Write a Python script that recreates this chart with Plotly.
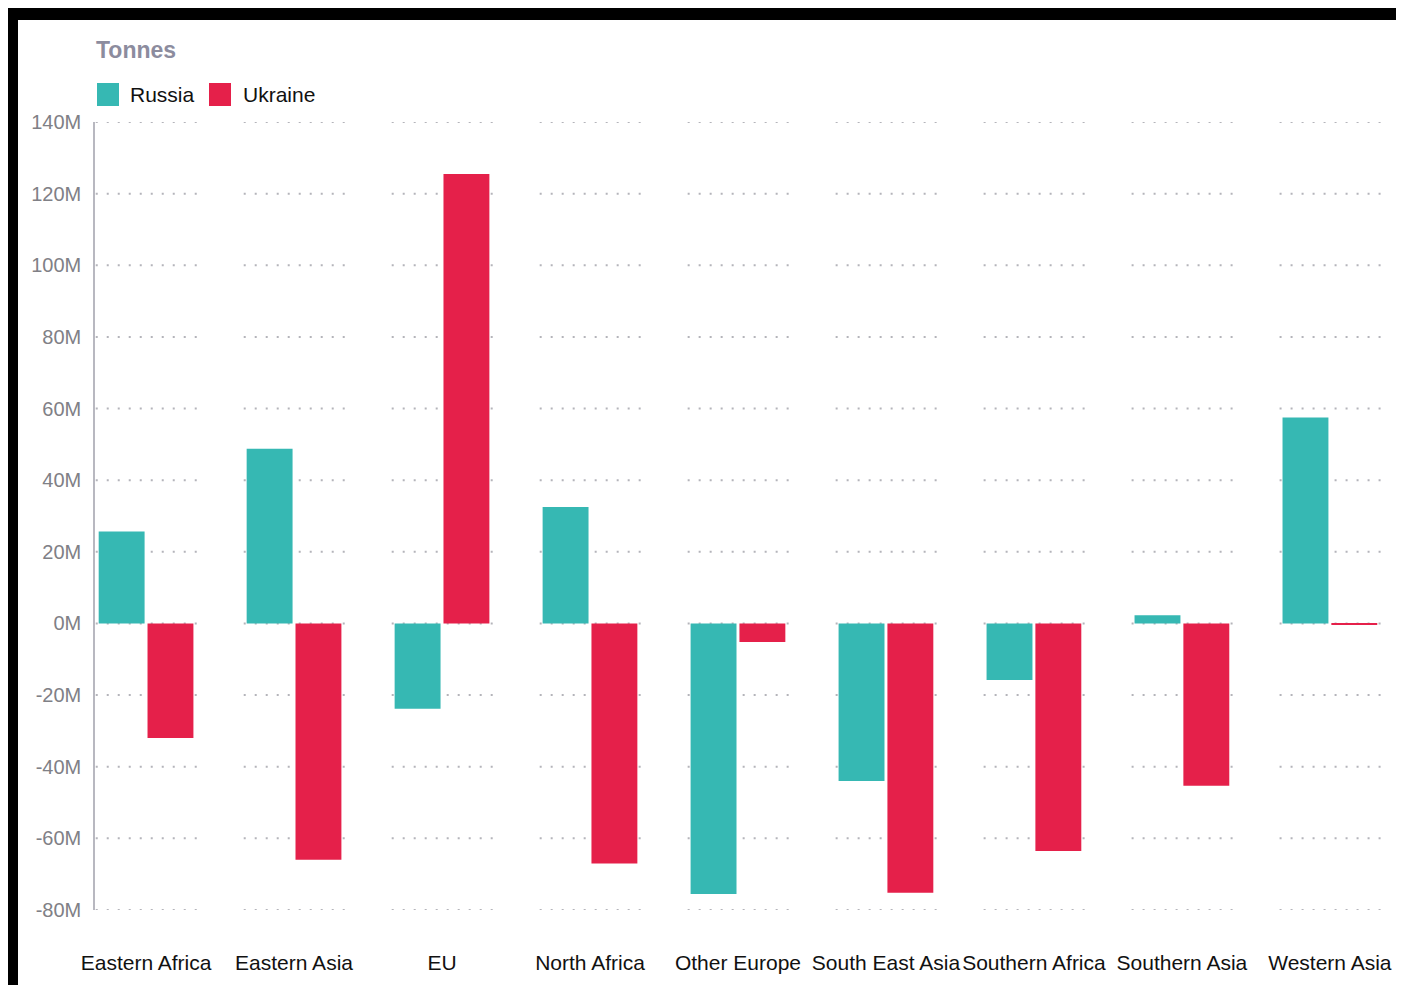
import plotly.graph_objects as go

categories = ["Eastern Africa", "Eastern Asia", "EU", "North Africa", "Other Europe",
              "South East Asia", "Southern Africa", "Southern Asia", "Western Asia"]
russia = [25.7e6, 48.8e6, -23.8e6, 32.5e6, -75.5e6, -44.0e6, -15.8e6, 2.3e6, 57.5e6]
ukraine = [-32.0e6, -66.0e6, 125.5e6, -67.0e6, -5.2e6, -75.2e6, -63.5e6, -45.3e6, -0.4e6]
series_names = ["Russia", "Ukraine"]
tick_values = [-80e6, -60e6, -40e6, -20e6, 0, 20e6, 40e6, 60e6, 80e6, 100e6, 120e6, 140e6]
tick_labels = [f"{int(v/1e6)}M" for v in tick_values]

TEAL = "#36b8b3"
RED = "#e5204a"
FONT = "Liberation Sans, Arial, sans-serif"

OFF = 8  # page body margin
W, H = 1388, 977
L, R, T, B = 87, 1, 114, 75
pw, ph = W - L - R, H - T - B


def px(x):
    # page pixel -> paper fraction
    return (x - OFF - L) / pw


def py(y):
    return (H - B - (y - OFF)) / ph


fig = go.Figure()
fig.add_trace(go.Bar(x=categories, y=russia, name=series_names[0], marker_color=TEAL,
                     marker_line_width=0, showlegend=False))
fig.add_trace(go.Bar(x=categories, y=ukraine, name=series_names[1], marker_color=RED,
                     marker_line_width=0, showlegend=False))

shapes = []
# black frame: black paper, white inner panel
shapes.append(dict(type="rect", xref="paper", yref="paper", layer="below",
                   x0=px(18), x1=px(1400), y0=py(988), y1=py(20),
                   fillcolor="white", line_width=0))
# dotted grid segments per category
for i in range(len(categories)):
    for v in tick_values:
        shapes.append(dict(type="line", xref="x", yref="y", layer="below",
                           x0=i - 0.34, x1=i + 0.36, y0=v, y1=v,
                           line=dict(color="#b4b4ba", width=2, dash="2px,9px")))

# custom legend
legend_x = [(97, 119, 128), (209, 231, 241)]
colors = [TEAL, RED]
annotations = []
for (sx0, sx1, tx), name, c in zip(legend_x, series_names, colors):
    shapes.append(dict(type="rect", xref="paper", yref="paper",
                       x0=px(sx0), x1=px(sx1), y0=py(106), y1=py(83),
                       fillcolor=c, line_width=0))
    annotations.append(dict(xref="paper", yref="paper", x=px(tx), y=py(94),
                            xanchor="left", yanchor="middle", showarrow=False,
                            text=name, font=dict(family=FONT, size=21, color="#111111")))
annotations.append(dict(xref="paper", yref="paper", x=px(94), y=py(50),
                        xanchor="left", yanchor="middle", showarrow=False,
                        text="<b>Tonnes</b>", font=dict(family=FONT, size=23, color="#8c8c9e")))

fig.update_layout(
    width=W, height=H,
    margin=dict(l=L, r=R, t=T, b=B, pad=0),
    paper_bgcolor="black",
    plot_bgcolor="rgba(0,0,0,0)",
    barmode="group",
    bargap=0.34,
    bargroupgap=0.06,
    shapes=shapes,
    annotations=annotations,
    font=dict(family=FONT),
    xaxis=dict(range=[-0.345, 8.44], showgrid=False, zeroline=False, showline=False,
               ticks="", ticklabelstandoff=38, tickangle=0, automargin=False,
               tickfont=dict(family=FONT, size=21, color="#111111")),
    yaxis=dict(range=[-80e6, 140e6], tickvals=tick_values, ticktext=tick_labels,
               showgrid=False, zeroline=False, showline=True, linecolor="#b8b8c0",
               linewidth=1.5, ticks="", ticklabelstandoff=8, automargin=False,
               tickfont=dict(family=FONT, size=20, color="#808086")),
)

fig.write_html("out.html")
